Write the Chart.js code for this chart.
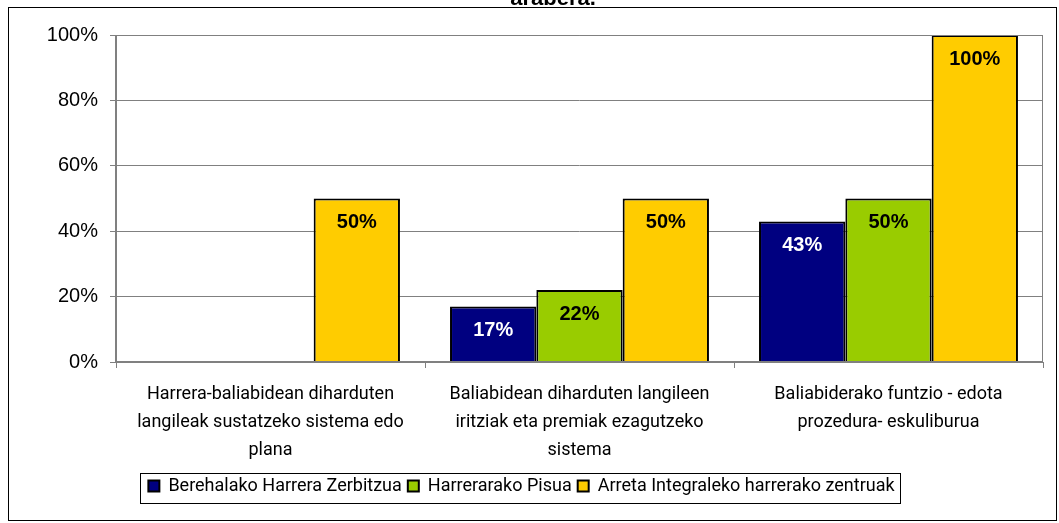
<!DOCTYPE html>
<html>
<head>
<meta charset="utf-8">
<script src="https://cdn.jsdelivr.net/npm/chart.js@4"></script>
<style>
  html, body { margin: 0; padding: 0; background: #fff; }
  #wrap { width: 1059px; height: 523px; position: relative; }
</style>
</head>
<body>
<div id="wrap"><canvas id="chart"></canvas></div>
<script>
'use strict';

const categories = [
  ['Harrera-baliabidean diharduten', 'langileak sustatzeko sistema edo', 'plana'],
  ['Baliabidean diharduten langileen', 'iritziak eta premiak ezagutzeko', 'sistema'],
  ['Baliabiderako funtzio - edota', 'prozedura- eskuliburua']
];
const seriesNames = ['Berehalako Harrera Zerbitzua', 'Harrerarako Pisua', 'Arreta Integraleko harrerako zentruak'];
const berehalako = [0, 17, 43];
const pisua      = [0, 22, 50];
const arreta     = [50, 50, 100];
const yTicks     = [0, 20, 40, 60, 80, 100];
const titleText  = 'arabera.';

const colors = ['#000080', '#99CC00', '#FFCC00'];
const labelColors = ['#ffffff', '#000000', '#000000'];
const mainFont = "'Liberation Sans', Arial, sans-serif";
const narrowFont = "Roboto, 'Liberation Sans', sans-serif";

// outer frame, clipped title, plot border, value labels, legend box
const framePlugin = {
  id: 'frame',
  beforeDraw(chart) {
    const { ctx } = chart;
    ctx.save();
    ctx.fillStyle = '#fff';
    ctx.fillRect(0, 0, chart.width, chart.height);
    ctx.strokeStyle = '#000';
    ctx.lineWidth = 1;
    ctx.strokeRect(8.5, 7.5, 1048, 513);
    ctx.fillStyle = '#000';
    ctx.font = 'bold 22px ' + mainFont;
    ctx.textAlign = 'center';
    ctx.textBaseline = 'alphabetic';
    ctx.fillText(titleText, 553, 5);
    ctx.restore();
  },
  afterDatasetsDraw(chart) {
    const { ctx, chartArea: a } = chart;
    ctx.save();
    ctx.strokeStyle = '#808080';
    ctx.lineWidth = 1;
    ctx.beginPath();
    ctx.moveTo(a.left, a.top + 0.5);
    ctx.lineTo(a.right - 0.5, a.top + 0.5);
    ctx.lineTo(a.right - 0.5, a.bottom);
    ctx.stroke();
    ctx.lineWidth = 2;
    ctx.beginPath();
    ctx.moveTo(a.left, a.top);
    ctx.lineTo(a.left, a.bottom);
    ctx.lineTo(a.right, a.bottom);
    ctx.stroke();

    // value labels
    ctx.font = 'bold 20px ' + mainFont;
    ctx.textAlign = 'center';
    ctx.textBaseline = 'middle';
    chart.data.datasets.forEach((ds, i) => {
      chart.getDatasetMeta(i).data.forEach((bar, j) => {
        const v = ds.data[j];
        if (!v) return;
        ctx.fillStyle = labelColors[i];
        ctx.fillText(v + '%', bar.x, bar.y + 24);
      });
    });

    // legend box
    const lg = chart.legend;
    if (lg && lg.legendHitBoxes.length) {
      const boxes = lg.legendHitBoxes;
      const x0 = boxes[0].left - 8;
      const last = boxes[boxes.length - 1];
      const x1 = last.left + last.width + 6;
      ctx.strokeStyle = '#000';
      ctx.lineWidth = 1;
      ctx.strokeRect(Math.round(x0) + 0.5, 473.5, Math.round(x1 - x0), 30);
    }
    ctx.restore();
  }
};

new Chart(document.getElementById('chart'), {
  type: 'bar',
  data: {
    labels: categories,
    datasets: [berehalako, pisua, arreta].map((d, i) => ({
      label: seriesNames[i],
      data: d,
      backgroundColor: colors[i],
      borderColor: '#000',
      borderWidth: 2,
      borderSkipped: 'bottom',
      barPercentage: 1,
      categoryPercentage: 0.838
    }))
  },
  options: {
    responsive: true,
    maintainAspectRatio: false,
    animation: false,
    devicePixelRatio: 1,
    layout: { padding: { top: 35, right: 16, left: 0, bottom: 18 } },
    plugins: {
      title: { display: false },
      tooltip: { enabled: false },
      legend: {
        position: 'bottom',
        labels: {
          color: '#000',
          font: { family: narrowFont, size: 18 },
          boxWidth: 11,
          boxHeight: 11,
          padding: 6,
          generateLabels: chart => chart.data.datasets.map((ds, i) => ({
            text: ds.label,
            fillStyle: colors[i],
            strokeStyle: '#000',
            lineWidth: 2,
            datasetIndex: i,
            fontColor: '#000'
          }))
        }
      }
    },
    scales: {
      x: {
        afterFit: s => { s.height = 109; },
        grid: {
          offset: true,
          drawOnChartArea: false,
          color: '#808080',
          tickLength: 6
        },
        border: { display: false },
        ticks: {
          color: '#000',
          font: { family: narrowFont, size: 18, lineHeight: 1.556 },
          padding: 12,
          maxRotation: 0,
          autoSkip: false
        }
      },
      y: {
        min: 0,
        max: 100,
        afterFit: s => { s.width = 116; },
        afterBuildTicks: s => { s.ticks = yTicks.map(v => ({ value: v })); },
        grid: { color: '#808080', tickLength: 6 },
        border: { display: false },
        ticks: {
          color: '#000',
          font: { family: mainFont, size: 20 },
          padding: 12,
          callback: v => v + '%'
        }
      }
    }
  },
  plugins: [framePlugin]
});
</script>
</body>
</html>
